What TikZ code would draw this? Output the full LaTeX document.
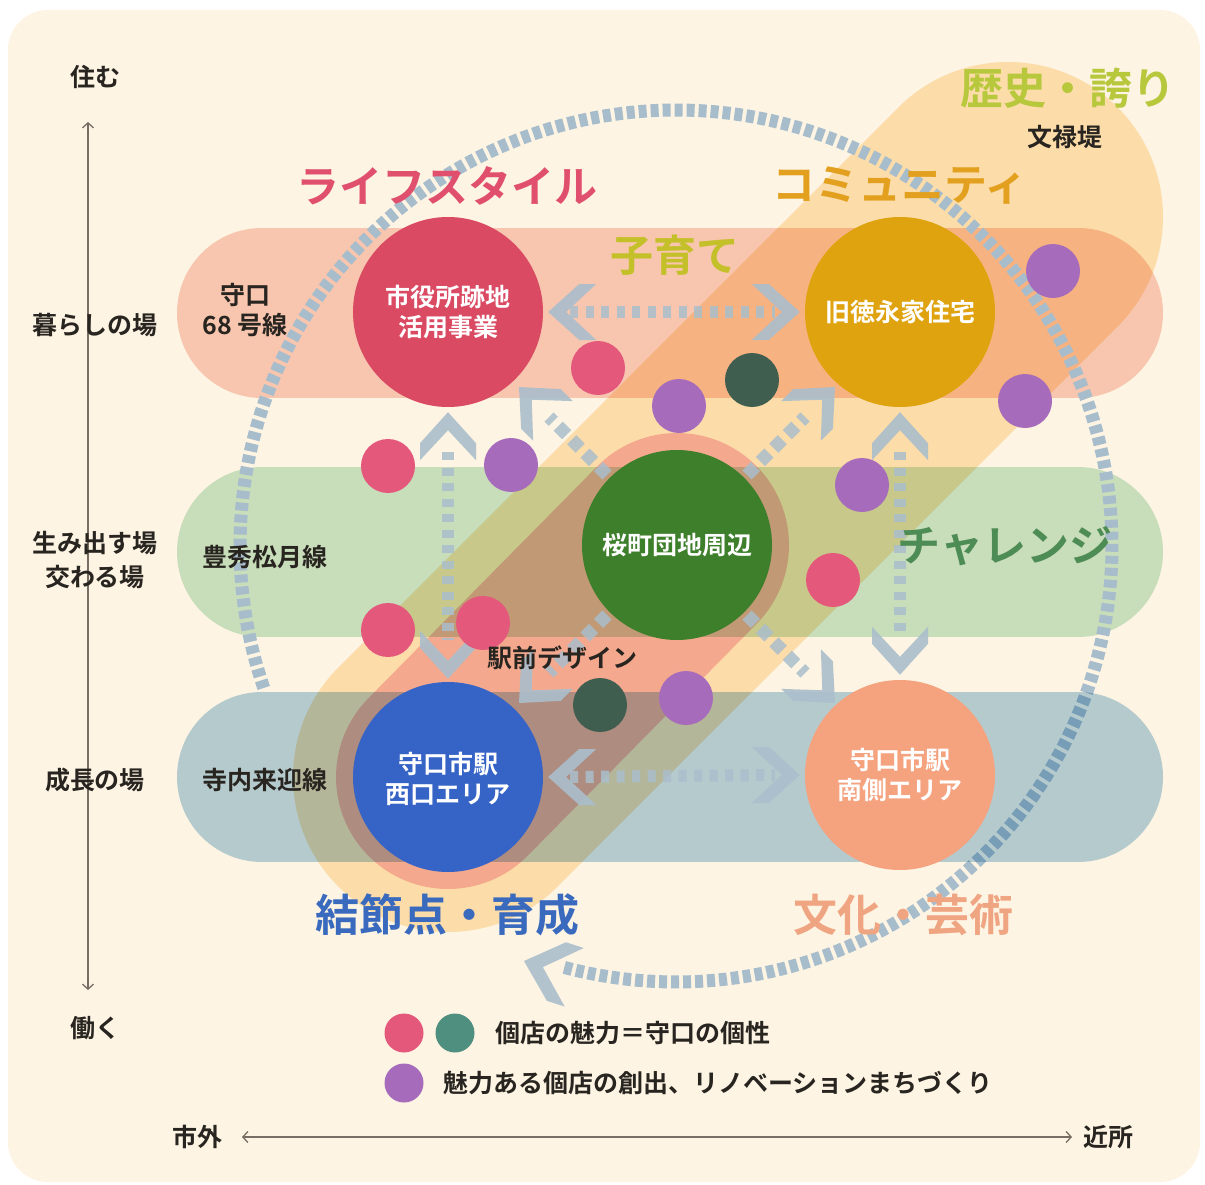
\documentclass[tikz,border=0pt]{standalone}
\usepackage{fontspec}
\setmainfont{Noto Sans CJK JP}[BoldFont={Noto Sans CJK JP Bold}]
\usetikzlibrary{arrows.meta,calc}
\definecolor{cream}{RGB}{253,244,227}
\definecolor{bandpink}{RGB}{250,207,196}
\definecolor{bandgreen}{RGB}{202,232,209}
\definecolor{bandblue}{RGB}{183,212,231}
\definecolor{bandorange}{RGB}{254,230,190}
\definecolor{bandsalmon}{RGB}{247,196,215}
\definecolor{ringgray}{RGB}{168,189,203}
\definecolor{arrowgray}{RGB}{170,190,204}
\definecolor{cshi}{RGB}{218,74,99}
\definecolor{ckyu}{RGB}{224,163,16}
\definecolor{csaku}{RGB}{62,127,43}
\definecolor{cnishi}{RGB}{53,99,198}
\definecolor{cminami}{RGB}{245,162,127}
\definecolor{dpink}{RGB}{228,88,123}
\definecolor{dpurple}{RGB}{166,108,187}
\definecolor{dgreen}{RGB}{63,94,80}
\definecolor{dteal}{RGB}{79,143,128}
\definecolor{tpink}{RGB}{224,80,110}
\definecolor{tgold}{RGB}{226,160,30}
\definecolor{tlime}{RGB}{196,192,42}
\definecolor{tlimeb}{RGB}{184,200,60}
\definecolor{tgreen}{RGB}{78,140,85}
\definecolor{tblue}{RGB}{58,106,190}
\definecolor{tsalmon}{RGB}{240,165,130}
\definecolor{ink}{RGB}{40,36,32}
\definecolor{axisc}{RGB}{120,110,100}
\begin{document}
\begin{tikzpicture}[x=1pt,y=-1pt,
  band/.style={line width=170pt, line cap=round},
  bigc/.style={circle, minimum size=190pt, inner sep=0pt, text=white, align=center,
    font=\fontsize{25}{30}\selectfont\bfseries},
  dot/.style={circle, minimum size=54pt, inner sep=0pt},
  ldot/.style={circle, minimum size=39pt, inner sep=0pt},
  lab/.style={text=ink, inner sep=0pt, align=center, font=\fontsize{25}{30}\selectfont\bfseries},
  ttl/.style={inner sep=0pt, font=\fontsize{43}{50}\selectfont\bfseries},
  ttlb/.style={inner sep=0pt, font=\fontsize{44}{50}\selectfont\bfseries},
  chev/.pic={\fill[arrowgray, fill opacity=0.9] (0,0) -- (-31,28) -- (-48,28) -- (-18,0) -- (-48,-28) -- (-31,-28) -- cycle;},
  hdash/.style={draw=arrowgray, draw opacity=0.85, line width=12pt, dash pattern=on 8pt off 7.5pt},
  ddash/.style={draw=arrowgray, draw opacity=0.85, line width=13pt, dash pattern=on 12pt off 7pt},
  axisline/.style={draw=axisc, line width=1.3pt, {Straight Barb[length=5pt,width=11pt]}-{Straight Barb[length=5pt,width=11pt]}}
]
\useasboundingbox (0,0) rectangle (1205,1185);
\fill[white] (0,0) rectangle (1205,1185);
\fill[cream, rounded corners=40pt] (8,10) rectangle (1200,1182);

% axes
\coordinate (vtop) at (88,122);
\coordinate (vbot) at (88,990);
\coordinate (hleft) at (242,1137);
\coordinate (hright) at (1072,1137);
\draw[axisline] (vtop) -- (vbot);
\draw[axisline] (hleft) -- (hright);

% diagonal and horizontal bands (multiplied)
\begin{scope}[blend mode=multiply]
  \draw[band, line width=310pt, draw=bandorange] (448,777) -- (1008,217);
  \draw[band, line width=224pt, draw=bandsalmon] (448,777) -- (677,545);
  \draw[band, draw=bandpink] (262,313) -- (1078,313);
  \draw[band, draw=bandgreen] (262,552) -- (1078,552);
\end{scope}

% big dashed cycle
\draw[ringgray, line width=13pt, dash pattern=on 8pt off 4pt]
  plot[domain=161:465, samples=240] ({676+436*cos(\x)},{546+436*sin(\x)});
\pic[rotate=162, scale=1.1] at (524,961) {chev};

\begin{scope}[blend mode=multiply]
  \draw[band, draw=bandblue] (262,777) -- (1078,777);
\end{scope}

% main circles
\node[bigc, fill=cshi] (shi) at (448,312) {};
\node[bigc, fill=ckyu] (kyu) at (900,312) {};
\node[bigc, fill=csaku] (saku) at (677,545) {};
\node[bigc, fill=cnishi] (nishi) at (448,777) {};
\node[bigc, fill=cminami] (minami) at (900,775) {};

% connectors: horizontal
\draw[hdash] ([xshift=27pt]shi.east) -- ([xshift=-30pt]kyu.west);
\pic[rotate=180] at ([xshift=5pt]shi.east) {chev};
\pic at ([xshift=-5pt]kyu.west) {chev};
\draw[hdash] ([xshift=27pt]nishi.east) -- ([xshift=-30pt]minami.west);
\pic[rotate=180] at ([xshift=5pt]nishi.east) {chev};
\pic at ([xshift=-5pt]minami.west) {chev};
% connectors: vertical
\draw[hdash] ([yshift=-45pt]shi.south) -- ([yshift=42pt]nishi.north);
\pic[rotate=90] at ([yshift=-5pt]shi.south) {chev};
\pic[rotate=270] at ([yshift=3pt]nishi.north) {chev};
\draw[hdash] ([yshift=-45pt]kyu.south) -- ([yshift=42pt]minami.north);
\pic[rotate=90] at ([yshift=-5pt]kyu.south) {chev};
\pic[rotate=270] at ([yshift=5pt]minami.north) {chev};
% connectors: diagonal from centre
\coordinate (dul) at ($(saku)+(-158,-158)$);
\coordinate (dur) at ($(saku)+(158,-158)$);
\coordinate (dll) at ($(saku)+(-158,158)$);
\coordinate (dlr) at ($(saku)+(158,158)$);
\draw[ddash] ($(saku)+(-70,-70)$) -- ($(saku)+(-128,-128)$);
\draw[ddash] ($(saku)+(70,-70)$) -- ($(saku)+(128,-128)$);
\draw[ddash] ($(saku)+(-70,70)$) -- ($(saku)+(-128,128)$);
\draw[ddash] ($(saku)+(70,70)$) -- ($(saku)+(128,128)$);
\pic[rotate=135] at (dul) {chev};
\pic[rotate=45] at (dur) {chev};
\pic[rotate=225] at (dll) {chev};
\pic[rotate=315] at (dlr) {chev};

% circle labels
\node[bigc] (shil) at (shi) {市役所跡地\\活用事業};
\node[bigc] (kyul) at (kyu) {旧徳永家住宅};
\node[bigc] (sakul) at (saku) {桜町団地周辺};
\node[bigc] (nishil) at ([yshift=-2pt]nishi) {守口市駅\\西口エリア};
\node[bigc] (minamil) at (minami) {守口市駅\\南側エリア};

% small dots
\node[dot, fill=dpink] (p1) at (598,368) {};
\node[dot, fill=dpink] (p2) at (388,466) {};
\node[dot, fill=dpink] (p3) at (388,630) {};
\node[dot, fill=dpink] (p4) at (483,623) {};
\node[dot, fill=dpink] (p5) at (833,580) {};
\node[dot, fill=dpurple] (u1) at (679,406) {};
\node[dot, fill=dpurple] (u2) at (511,465) {};
\node[dot, fill=dpurple] (u3) at (862,485) {};
\node[dot, fill=dpurple] (u4) at (1053,271) {};
\node[dot, fill=dpurple] (u5) at (1025,401) {};
\node[dot, fill=dpurple] (u6) at (686,698) {};
\node[dot, fill=dgreen] (g1) at (752,380) {};
\node[dot, fill=dgreen] (g2) at (600,705) {};

% big theme words
\node[ttl, text=tpink] (life) at (447,186) {ライフスタイル};
\node[ttl, text=tgold] (comm) at (900,186) {コミュニティ};
\node[ttl, text=tlime] (kosodate) at (675,255) {子育て};
\node[ttl, text=tlimeb] (rekishi) at (1068,88) {歴史・誇り};
\node[ttl, text=tgreen] (chal) at (1005,546) {チャレンジ};
\node[ttlb, text=tblue] (kessetsu) at (447,915) {結節点・育成};
\node[ttlb, text=tsalmon] (bunka) at (903,915) {文化・芸術};

% axis labels
\node[lab] (sumu) at (95,77) {住む};
\node[lab] (kurashi) at (95,325) {暮らしの場};
\node[lab, font=\fontsize{25}{34}\selectfont\bfseries] (umidasu) at (95,560) {生み出す場\\交わる場};
\node[lab] (seicho) at (95,780) {成長の場};
\node[lab] (hataraku) at (95,1028) {働く};
\node[lab] (shigai) at (197,1137) {市外};
\node[lab] (kinjo) at (1108,1137) {近所};

% band labels
\node[lab] (r68) at (245,310) {守口\\68 号線};
\node[lab] (hoshu) at (265,557) {豊秀松月線};
\node[lab] (terauchi) at (265,780) {寺内来迎線};
\node[lab] (bunroku) at (1065,137) {文禄堤};
\node[lab] (ekimae) at (562,658) {駅前デザイン};

% legend
\node[ldot, fill=dpink] (lg1) at (404,1033) {};
\node[ldot, fill=dteal] (lg2) at (455,1033) {};
\node[ldot, fill=dpurple] (lg3) at (404,1083) {};
\node[lab, anchor=west] (lt1) at (495,1033) {個店の魅力＝守口の個性};
\node[lab, anchor=west] (lt2) at (443,1083) {魅力ある個店の創出、リノベーションまちづくり};
\end{tikzpicture}
\end{document}
